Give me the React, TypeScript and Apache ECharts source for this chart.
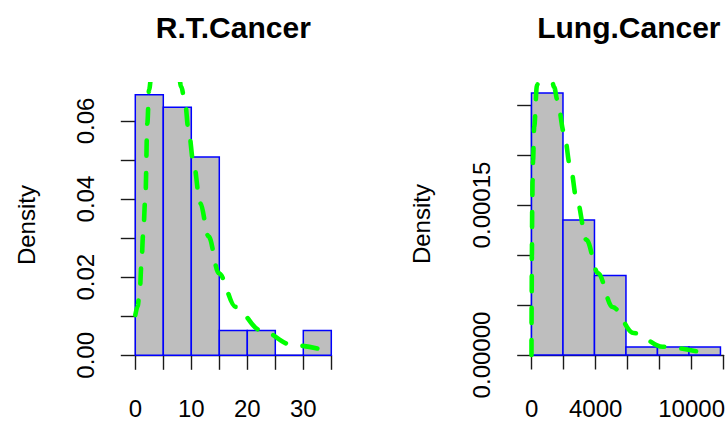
import React, { useEffect, useRef } from "react";
import * as echarts from "echarts";

// ---------- data ----------
const rtBinEdges = [0, 5, 10, 15, 20, 25, 30, 35];
const rtDensity = [0.0667, 0.0635, 0.0508, 0.00635, 0.00635, 0, 0.00635];
const rtCurveX = [0, 0.4, 0.8, 1.1, 1.4, 1.8, 2.15, 2.45, 3.0, 3.6, 4.3, 5.0, 5.7, 6.4, 7.1, 7.7, 8.2, 8.9, 9.5, 10.4, 11.6, 13.1, 14.9, 17.9, 22.3, 28.2, 35];
const rtCurveY = [0.0103, 0.0125, 0.0165, 0.0235, 0.031, 0.0405, 0.0594, 0.0679, 0.0735, 0.0772, 0.0795, 0.0803, 0.0798, 0.0781, 0.0752, 0.0722, 0.0688, 0.0645, 0.0577, 0.0492, 0.0389, 0.0304, 0.021, 0.0124, 0.0065, 0.0026, 0.0009];
const rtXLabels = [0, 10, 20, 30];
const rtYLabels = [0, 0.02, 0.04, 0.06];

const lungBinEdges = [0, 2000, 4000, 6000, 8000, 10000, 12000];
const lungDensity = [2.619e-4, 1.349e-4, 0.794e-4, 0.079e-4, 0.079e-4, 0.079e-4];
const lungCurveX = [0, 10, 25, 45, 70, 100, 170, 350, 600, 900, 1200, 1440, 1643, 2057, 2471, 2878, 3496, 4219, 5145, 6485, 8338, 11100];
const lungCurveY = [0, 0.5e-4, 1.0e-4, 1.45e-4, 1.75e-4, 1.95e-4, 2.28e-4, 2.7e-4, 2.9e-4, 2.93e-4, 2.82e-4, 2.68e-4, 2.55e-4, 2.23e-4, 1.88e-4, 1.55e-4, 1.15e-4, 0.82e-4, 0.48e-4, 0.22e-4, 0.083e-4, 0.015e-4];
const lungXLabels = [0, 4000, 10000];
const lungYLabels = [0, 0.00015];

const titles = ["R.T.Cancer", "Lung.Cancer"];
const yName = "Density";

// ---------- style / layout ----------
const FONT = '"Liberation Sans", Arial, Helvetica, sans-serif';
const LABEL_SIZE = 24;

type Panel = {
  edges: number[];
  dens: number[];
  cx: number[];
  cy: number[];
  xLabels: number[];
  yLabels: number[];
  yDigits: number;
  xTick: [number, number, number];
  yTick: [number, number, number];
  px: { xA: number; xB: number; yA: number; yB: number };
  title: string;
  yNameX: number;
};

const panels: Panel[] = [
  {
    edges: rtBinEdges, dens: rtDensity, cx: rtCurveX, cy: rtCurveY,
    xLabels: rtXLabels, yLabels: rtYLabels, yDigits: 2,
    xTick: [0, 35, 5], yTick: [0, 0.06, 0.01],
    px: { xA: 135.3, xB: 331.3, yA: 355.3, yB: 121 },
    title: titles[0], yNameX: 26,
  },
  {
    edges: lungBinEdges, dens: lungDensity, cx: lungCurveX, cy: lungCurveY,
    xLabels: lungXLabels, yLabels: lungYLabels, yDigits: 5,
    xTick: [0, 12000, 2000], yTick: [0, 0.00025, 0.00005],
    px: { xA: 531.7, xB: 726, yA: 355, yB: 105 },
    title: titles[1], yNameX: 421,
  },
];

function near(v: number, arr: number[]) {
  return arr.some((a) => Math.abs(a - v) < 1e-9 * Math.max(1, Math.abs(a)) + 1e-12);
}

function buildOption() {
  const grid: any[] = [];
  const xAxis: any[] = [];
  const yAxis: any[] = [];
  const series: any[] = [];
  const graphic: any[] = [];

  panels.forEach((p, i) => {
    const xMin0 = p.edges[0];
    const xMax0 = p.edges[p.edges.length - 1];
    const xr = xMax0 - xMin0;
    const xRange = [xMin0 - 0.04 * xr, xMax0 + 0.04 * xr];
    const yMaxD = Math.max(...p.dens);
    const yRange = [-0.04 * yMaxD, 1.04 * yMaxD];

    const sx = (p.px.xB - p.px.xA) / (p.xTick[1] - p.xTick[0]);
    const sy = (p.px.yA - p.px.yB) / (p.yTick[1] - p.yTick[0]);
    const x0 = p.px.xA + (xRange[0] - p.xTick[0]) * sx;
    const x1 = p.px.xA + (xRange[1] - p.xTick[0]) * sx;
    const yTop = p.px.yA - (yRange[1] - p.yTick[0]) * sy;
    const yBot = p.px.yA - (yRange[0] - p.yTick[0]) * sy;

    grid.push({ left: x0, top: yTop, width: x1 - x0, height: yBot - yTop, containLabel: false });
    grid.push({ left: p.px.xA, top: p.px.yB, width: p.px.xB - p.px.xA, height: p.px.yA - p.px.yB, containLabel: false });

    const gData = i * 2;
    const gAxis = i * 2 + 1;

    xAxis.push({ gridIndex: gData, type: "value", min: xRange[0], max: xRange[1], show: false });
    yAxis.push({ gridIndex: gData, type: "value", min: yRange[0], max: yRange[1], show: false });

    const axisLine = { show: true, lineStyle: { color: "#1a1a1a", width: 1.4 } };
    const axisTick = { show: true, inside: false, length: 14.5, lineStyle: { color: "#1a1a1a", width: 1.4 } };

    xAxis.push({
      gridIndex: gAxis, type: "value", position: "bottom",
      min: p.xTick[0], max: p.xTick[1], interval: p.xTick[2],
      offset: yBot - p.px.yA,
      axisLine, axisTick,
      splitLine: { show: false },
      axisLabel: {
        show: true, margin: 31, color: "#000", fontFamily: FONT, fontSize: LABEL_SIZE,
        formatter: (v: number) => (near(v, p.xLabels) ? String(Math.round(v)) : ""),
      },
    });
    yAxis.push({
      gridIndex: gAxis, type: "value", position: "left",
      min: p.yTick[0], max: p.yTick[1], interval: p.yTick[2],
      offset: p.px.xA - x0,
      axisLine, axisTick,
      splitLine: { show: false },
      axisLabel: {
        show: true, rotate: 90, margin: 30, color: "#000", fontFamily: FONT, fontSize: LABEL_SIZE,
        formatter: (v: number) => (near(v, p.yLabels) ? v.toFixed(p.yDigits) : ""),
      },
    });

    const barData = p.dens.map((d, k) => [p.edges[k], p.edges[k + 1], d]);
    series.push({
      type: "custom",
      xAxisIndex: i * 2,
      yAxisIndex: i * 2,
      data: barData,
      encode: { x: [0, 1], y: 2 },
      clip: false,
      z: 2,
      renderItem: (params: any, api: any) => {
        const a = api.coord([api.value(0), api.value(2)]);
        const b = api.coord([api.value(1), 0]);
        return {
          type: "rect",
          shape: { x: a[0], y: a[1], width: b[0] - a[0], height: b[1] - a[1] },
          style: { fill: "#BEBEBE", stroke: "#0000FF", lineWidth: 1.5 },
        };
      },
    });

    series.push({
      type: "line",
      xAxisIndex: i * 2,
      yAxisIndex: i * 2,
      data: p.cx.map((x, k) => [x, p.cy[k]]),
      showSymbol: false,
      symbol: "none",
      smooth: 0.35,
      smoothMonotone: "x",
      clip: true,
      z: 5,
      lineStyle: { color: "#00FF00", width: 4.6, type: [15, 17], cap: "round" },
    });

    const cxMid = (x0 + x1) / 2;
    graphic.push({
      type: "text", x: cxMid, y: 27,
      style: {
        text: p.title, fill: "#000", font: `bold 30px ${FONT}`,
        align: "center", verticalAlign: "middle", textAlign: "center", textVerticalAlign: "middle",
      },
    });
    graphic.push({
      type: "text", x: p.yNameX, y: (yTop + yBot) / 2, rotation: Math.PI / 2,
      style: {
        text: yName, fill: "#000", font: `${LABEL_SIZE}px ${FONT}`,
        align: "center", verticalAlign: "middle", textAlign: "center", textVerticalAlign: "middle",
      },
    });
  });

  return {
    animation: false,
    backgroundColor: "#ffffff",
    grid, xAxis, yAxis, series, graphic,
  };
}

export default function App() {
  const ref = useRef<HTMLDivElement>(null);
  useEffect(() => {
    if (!ref.current) return;
    const chart = echarts.init(ref.current, undefined, { renderer: "svg" });
    chart.setOption(buildOption() as any);
    return () => chart.dispose();
  }, []);
  return (
    <div
      ref={ref}
      style={{ position: "fixed", left: 0, top: 0, width: 728, height: 426, background: "#fff" }}
    />
  );
}
